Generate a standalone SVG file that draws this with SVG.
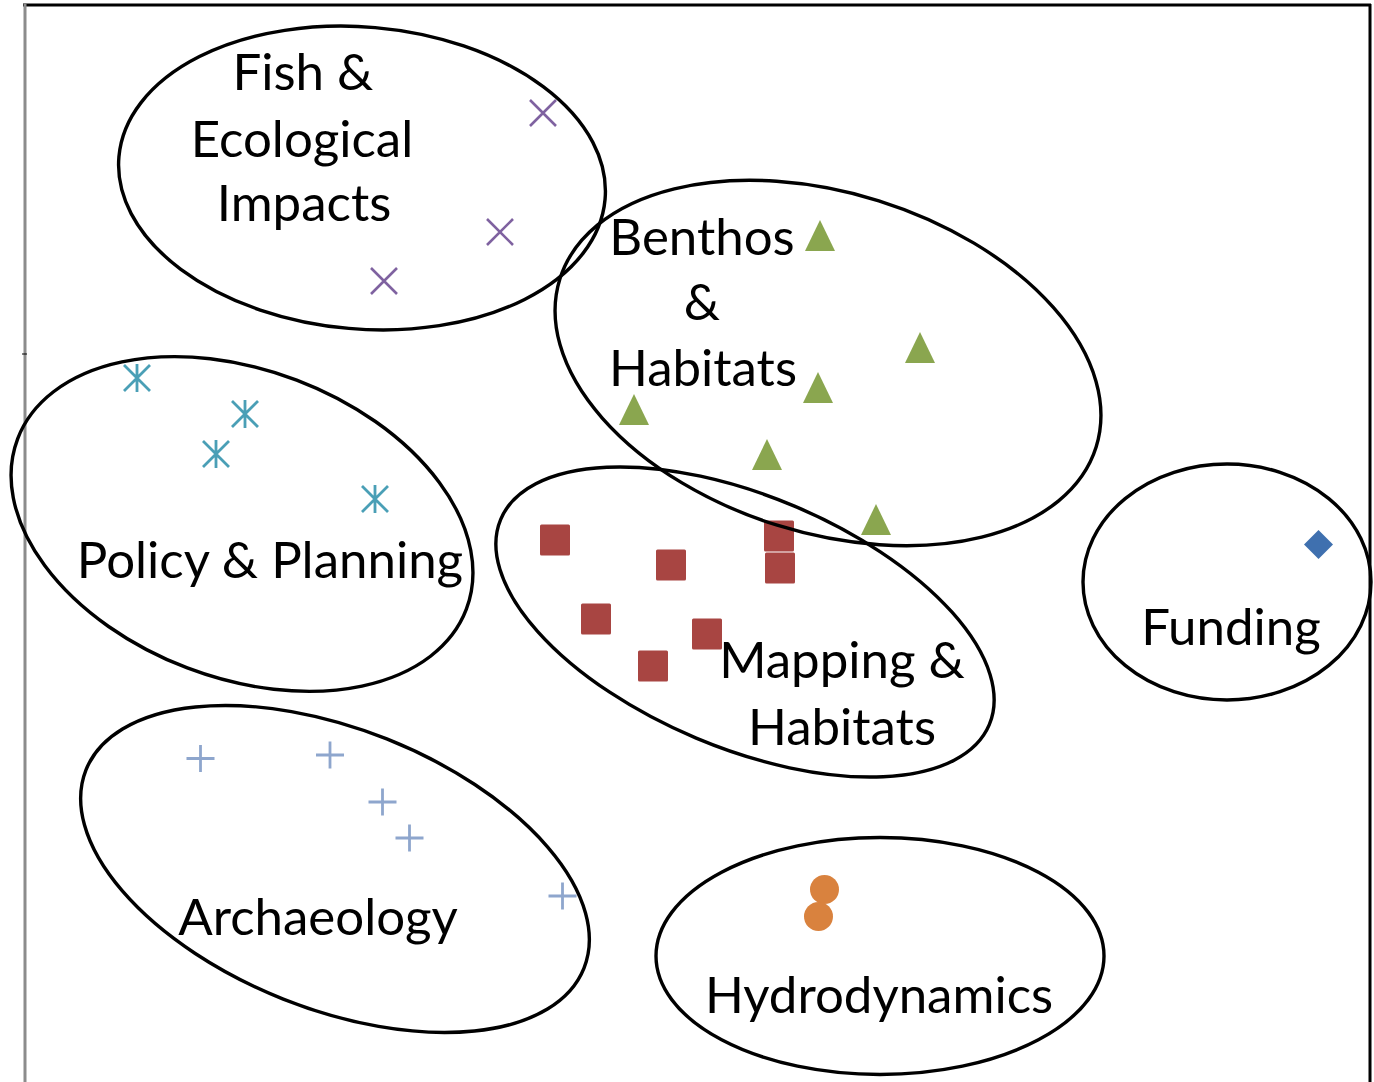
<svg xmlns="http://www.w3.org/2000/svg" width="1374" height="1082" viewBox="0 0 1374 1082">
<style>
.ring{fill:none;stroke:#000;stroke-width:3.4}
.lbl{font-family:Lato,"Open Sans","Liberation Sans",sans-serif;font-size:51px;fill:#000;text-anchor:middle}
.xm{stroke:#7F62A0;stroke-width:2.6;fill:none}
.ast{stroke:#4A9FB6;stroke-width:2.8;fill:none}
.tri{fill:#8AA64F}
.sq{fill:#A84542}
.dia{fill:#3F70AF}
.dot{fill:#D9823E}
.pl{stroke:#8EA6CD;stroke-width:2.8;fill:none}
</style>
<defs>
<path id="mx" d="M-13,-13L13,13M-13,13L13,-13"/>
<path id="mast" d="M-13,-13L13,13M-13,13L13,-13M0,-14V14"/>
<path id="mtri" d="M0,-16L15,15H-15Z"/>
<rect id="msq" x="-15" y="-15.5" width="30" height="31" rx="1.5"/>
<path id="mdia" d="M0,-14.5L14.5,0L0,14.5L-14.5,0Z"/>
<circle id="mdot" r="14.5"/>
<path id="mpl" d="M-14,0H14M0,-13.5V13.5"/>
</defs>
<rect width="1374" height="1082" fill="#fff"/>
<g id="frame">
<line x1="23" y1="5" x2="1371" y2="5" stroke="#000" stroke-width="3"/>
<line x1="1370" y1="4" x2="1370" y2="1082" stroke="#000" stroke-width="3"/>
<line x1="25" y1="4" x2="25" y2="1082" stroke="#8C8C8C" stroke-width="3"/>
<line x1="22" y1="354" x2="27" y2="354" stroke="#000" stroke-width="1"/>
</g>
<g id="connectors"/>
<g id="fish">
<use href="#mx" class="xm" x="543" y="113"/>
<use href="#mx" class="xm" x="500" y="232"/>
<use href="#mx" class="xm" x="384" y="281"/>
<ellipse class="ring" cx="362" cy="178" rx="244" ry="151" transform="rotate(5 362 178)"/>
<text class="lbl" x="303" y="90">Fish &amp;</text>
<text class="lbl" x="302" y="157">Ecological</text>
<text class="lbl" x="304" y="221">Impacts</text>
</g>
<g id="policy">
<use href="#mast" class="ast" x="137" y="378"/>
<use href="#mast" class="ast" x="245" y="414"/>
<use href="#mast" class="ast" x="216" y="454"/>
<use href="#mast" class="ast" x="375" y="499"/>
<ellipse class="ring" cx="242" cy="524" rx="240" ry="154" transform="rotate(20.8 242 524)"/>
<text class="lbl" x="270" y="578">Policy &amp; Planning</text>
</g>
<g id="mapping">
<use href="#msq" class="sq" x="555" y="540"/>
<use href="#msq" class="sq" x="671" y="565"/>
<use href="#msq" class="sq" x="779" y="536"/>
<use href="#msq" class="sq" x="780" y="568"/>
<use href="#msq" class="sq" x="596" y="619"/>
<use href="#msq" class="sq" x="707" y="634"/>
<use href="#msq" class="sq" x="653" y="666"/>
<ellipse class="ring" cx="745" cy="622" rx="265" ry="126" transform="rotate(22.8 745 622)"/>
<text class="lbl" x="842" y="678">Mapping &amp;</text>
<text class="lbl" x="842" y="745">Habitats</text>
</g>
<g id="benthos">
<use href="#mtri" class="tri" x="820" y="236"/>
<use href="#mtri" class="tri" x="920" y="348"/>
<use href="#mtri" class="tri" x="818" y="388"/>
<use href="#mtri" class="tri" x="634" y="410"/>
<use href="#mtri" class="tri" x="767" y="455"/>
<use href="#mtri" class="tri" x="876" y="520"/>
<ellipse class="ring" cx="828" cy="363" rx="281" ry="170" transform="rotate(17.4 828 363)"/>
<text class="lbl" x="702" y="255">Benthos</text>
<text class="lbl" x="702" y="320">&amp;</text>
<text class="lbl" x="703" y="386">Habitats</text>
</g>
<g id="funding">
<use href="#mdia" class="dia" x="1318.5" y="544.5"/>
<ellipse class="ring" cx="1227" cy="582" rx="144" ry="118"/>
<text class="lbl" x="1231" y="645">Funding</text>
</g>
<g id="archaeology">
<use href="#mpl" class="pl" x="200.5" y="758.5"/>
<use href="#mpl" class="pl" x="330" y="755"/>
<use href="#mpl" class="pl" x="382.5" y="802"/>
<use href="#mpl" class="pl" x="409.5" y="838"/>
<use href="#mpl" class="pl" x="562.5" y="896"/>
<ellipse class="ring" cx="335" cy="869" rx="268" ry="140" transform="rotate(21.7 335 869)"/>
<text class="lbl" x="318" y="935">Archaeology</text>
</g>
<g id="hydrodynamics">
<use href="#mdot" class="dot" x="824.5" y="889.5"/>
<use href="#mdot" class="dot" x="818.5" y="916.5"/>
<ellipse class="ring" cx="880" cy="956" rx="224" ry="118.5"/>
<text class="lbl" x="879" y="1013">Hydrodynamics</text>
</g>
</svg>
